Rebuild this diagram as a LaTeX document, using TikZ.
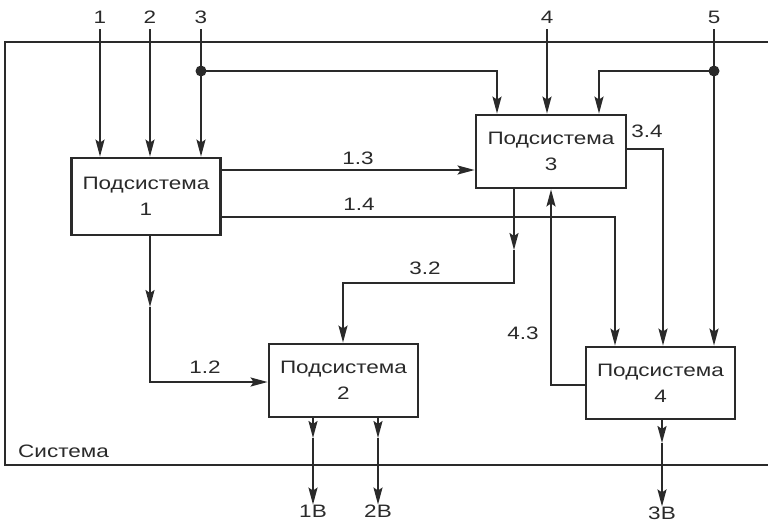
\documentclass[tikz,border=0pt]{standalone}
\usepackage{fontspec}
\setmainfont{Liberation Sans}[FakeStretch=1.25]
\usetikzlibrary{arrows.meta}
\definecolor{ink}{HTML}{2A2A2A}
\begin{document}
\begin{tikzpicture}[x=1pt,y=-1pt,
  font=\fontsize{18}{26}\selectfont,color=ink,
  sub/.style={draw,line width=2.8pt,align=center,inner sep=0pt},
  link/.style={line width=1.9pt},
  flow/.style={link,-{Stealth[length=17pt,width=9pt,inset=3pt]}},
  lbl/.style={inner sep=0pt}]
\useasboundingbox (0,0) rectangle (768,523);
% system frame (continues past the right edge)
\draw[link] (768,42) -- (5,42) -- (5,465) -- (768,465);
\node[lbl,anchor=south west] (sys) at (18,458) {Система};

% subsystems
\node[sub,minimum width=149pt,minimum height=77pt] (b1) at (146,196.5) {Подсистема\\1};
\node[sub,minimum width=150pt,minimum height=73pt] (b3) at (551,151.5) {Подсистема\\3};
\node[sub,minimum width=149pt,minimum height=73pt] (b2) at (343.5,380.5) {Подсистема\\2};
\node[sub,minimum width=149pt,minimum height=72pt] (b4) at (660.5,383) {Подсистема\\4};

% external inputs
\node[lbl] (i1) at (100,17) {1};
\node[lbl] (i2) at (150,17) {2};
\node[lbl] (i3) at (201,17) {3};
\node[lbl] (i4) at (547,17) {4};
\node[lbl] (i5) at (714,17) {5};
\coordinate (t1) at (100,29);
\coordinate (t2) at (150,29);
\coordinate (t3) at (201,29);
\coordinate (t4) at (547,29);
\coordinate (t5) at (714,29);
\draw[flow] (t1) -- (b1.north -| t1);
\draw[flow] (t2) -- (b1.north -| t2);
\draw[flow] (t3) -- (b1.north -| t3);
\draw[flow] (t4) -- (b3.north -| t4);

% branch of input 3 to subsystem 3
\coordinate (d3) at (201,71);
\fill (d3) circle (5.5pt);
\draw[flow] (d3) -- (497,71) -- (b3.north -| 497,0);

% branch of input 5 to subsystems 3 and 4
\coordinate (d5) at (714,71);
\fill (d5) circle (5.5pt);
\draw[flow] (t5) -- (b4.north -| t5);
\draw[flow] (d5) -- (599,71) -- (b3.north -| 599,0);

% internal links
\draw[flow] (b1.east |- 0,170) -- (b3.west |- 0,170);
\node[lbl] (l13) at (358,158) {1.3};
\draw[flow] (b1.east |- 0,217) -- (615,217) -- (b4.north -| 615,0);
\node[lbl] (l14) at (359,204) {1.4};
\draw[flow] (b3.east |- 0,149) -- (663,149) -- (b4.north -| 663,0);
\node[lbl] (l34) at (647,131) {3.4};

\coordinate (m32) at (514,250);
\draw[flow] (b3.south -| m32) -- (m32);
\draw[flow] (m32) -- (514,283) -- (343,283) -- (b2.north -| 343,0);
\node[lbl] (l32) at (425,268) {3.2};

\coordinate (m12) at (150,307);
\draw[flow] (b1.south -| m12) -- (m12);
\draw[flow] (m12) -- (150,382) -- (b2.west |- 0,382);
\node[lbl] (l12) at (205,367) {1.2};

\draw[flow] (b4.west |- 0,385) -- (551,385) -- (b3.south -| 551,0);
\node[lbl] (l43) at (523,333) {4.3};

% external outputs
\coordinate (o1m) at (313,438);
\coordinate (o2m) at (378,438);
\coordinate (o3m) at (662,443);
\node[lbl] (o1) at (313,511) {1В};
\node[lbl] (o2) at (378,511) {2В};
\node[lbl] (o3) at (662,513) {3В};
\draw[flow] (b2.south -| o1m) -- (o1m);
\draw[flow] (o1m) -- (o1.north);
\draw[flow] (b2.south -| o2m) -- (o2m);
\draw[flow] (o2m) -- (o2.north);
\draw[flow] (b4.south -| o3m) -- (o3m);
\draw[flow] (o3m) -- (o3.north);
\end{tikzpicture}
\end{document}
